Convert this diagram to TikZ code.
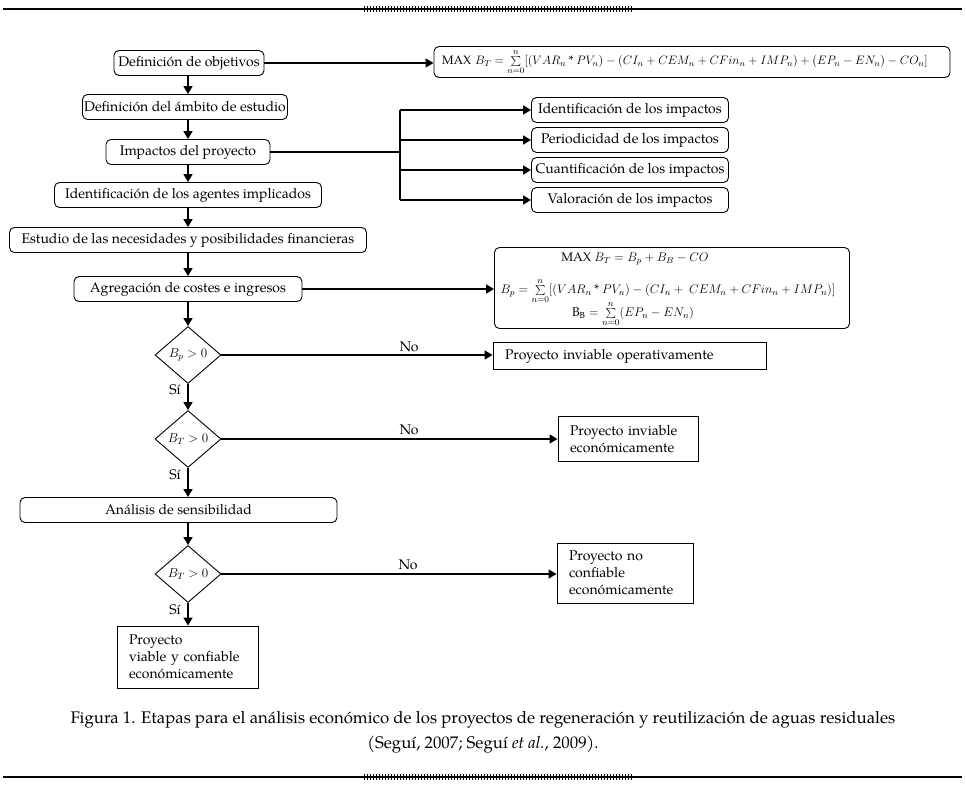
\RequirePackage{fix-cm}
\documentclass[tikz,border=0pt]{standalone}
\usepackage{fontspec}
\setmainfont{TeX Gyre Pagella}
\usetikzlibrary{arrows.meta,shapes.geometric}
\newcommand{\astx}{\mathbin{\mbox{*}}}
\begin{document}
\begin{tikzpicture}[x=1pt,y=-1pt,
  every node/.style={font=\fontsize{14}{17}\selectfont, inner sep=0pt},
  mathtxt/.style={font=\fontsize{12.5}{15}\selectfont},
  rbox/.style={draw, rounded corners=5pt, line width=0.9pt, minimum height=25pt},
  pbox/.style={draw, line width=0.9pt, align=left, inner xsep=12pt},
  dec/.style={draw, diamond, aspect=1.15, line width=0.9pt, minimum width=66pt, minimum height=57pt, font=\fontsize{13}{15}\selectfont},
  conn/.style={line width=1.6pt, -{Triangle[length=8pt,width=9pt]}},
  plain/.style={line width=1.6pt},
  lbl/.style={font=\fontsize{14}{16}\selectfont},
  rule/.style={line width=1.2pt},
  ]
\useasboundingbox (0,0) rectangle (966,788);

% rules with hatched band
\draw[rule] (3,9) -- (962,9);
\draw[rule] (3,777) -- (962,777);
\foreach \i in {0,...,89} {
  \draw[line width=0.9pt] ({364+3*\i},6) -- ({364+3*\i},12);
  \draw[line width=0.9pt] ({364+3*\i},774) -- ({364+3*\i},780);
}

\coordinate (ax) at (188,0);

% main column
\node[rbox, minimum width=150pt] (obj) at (189,63) {Definición de objetivos};
\node[rbox, minimum width=205pt] (amb) at (185,107) {Definición del ámbito de estudio};
\node[rbox, minimum width=164pt] (imp) at (188,152) {Impactos del proyecto};
\node[rbox, minimum width=267pt] (age) at (188,195) {Identificación de los agentes implicados};
\node[rbox, minimum width=357pt] (est) at (188,240) {Estudio de las necesidades y posibilidades financieras};
\node[rbox, minimum width=228pt] (agr) at (188,289) {Agregación de costes e ingresos};
\node[dec] (d1) at (188,355) {$B_p>0$};
\node[dec] (d2) at (188,439) {$B_T>0$};
\node[rbox, minimum width=317pt] (ana) at (178.5,510) {Análisis de sensibilidad};
\node[dec] (d3) at (188,574) {$B_T>0$};
\node[pbox, text width=117pt, minimum height=62pt] (via) at (187.5,657) {Proyecto\\viable y confiable\\económicamente};

\draw[conn] (ax |- obj.south) -- (ax |- amb.north);
\draw[conn] (ax |- amb.south) -- (ax |- imp.north);
\draw[conn] (ax |- imp.south) -- (ax |- age.north);
\draw[conn] (ax |- age.south) -- (ax |- est.north);
\draw[conn] (ax |- est.south) -- (ax |- agr.north);
\draw[conn] (ax |- agr.south) -- (d1.north);
\draw[conn] (d1.south) -- (d2.north);
\draw[conn] (d2.south) -- (ax |- ana.north);
\draw[conn] (ax |- ana.south) -- (d3.north);
\draw[conn] (d3.south) -- (ax |- via.north);

\node[lbl] (si1) at (175,390) {Sí};
\node[lbl] (si2) at (175,475) {Sí};
\node[lbl] (si3) at (175,610) {Sí};

% formula 1
\node[rbox, text width=500pt, inner xsep=8pt, align=left, minimum height=31pt, font=\fontsize{12.2}{15}\selectfont] (f1) at (692,62)
  {MAX $B_T=\sum\limits_{n=0}^{n}[(VAR_n\astx PV_n)-(CI_n+CEM_n+CFin_n+IMP_n)+(EP_n-EN_n)-CO_n]$};
\draw[conn] (obj.east) -- (obj.east -| f1.west);

% impacts
\node[rbox, minimum width=197pt] (i1) at (630,110) {Identificación de los impactos};
\node[rbox, minimum width=197pt] (i2) at (630,140) {Periodicidad de los impactos};
\node[rbox, minimum width=197pt] (i3) at (630,170) {Cuantificación de los impactos};
\node[rbox, minimum width=197pt] (i4) at (630,200) {Valoración de los impactos};
\coordinate (br) at (400,152);
\draw[plain] (imp.east) -- (imp.east -| br);
\draw[plain] (br |- i1.west) -- (br |- i4.west);
\draw[conn] (br |- i1.west) -- (i1.west);
\draw[conn] (br |- i2.west) -- (i2.west);
\draw[conn] (br |- i3.west) -- (i3.west);
\draw[conn] (br |- i4.west) -- (i4.west);

% formula 2
\node[rbox, minimum width=355pt, minimum height=81pt] (f2) at (672,288) {};
\node[mathtxt] (f2a) at (635,259) {MAX $B_T=B_p+B_B-CO$};
\node[mathtxt] (f2b) at (668,291) {$B_p=\sum\limits_{n=0}^{n}[(VAR_n\astx PV_n)-(CI_n+\ CEM_n+CFin_n+IMP_n)]$};
\node[mathtxt] (f2c) at (633,314) {B$_{\mathrm{B}}=\sum\limits_{n=0}^{n}(EP_n-EN_n)$};
\draw[conn] (agr.east) -- (agr.east -| f2.west);

% outcomes
\node[pbox, text width=249pt, minimum height=27pt] (o1) at (629.5,356) {Proyecto inviable operativamente};
\node[pbox, text width=116pt, minimum height=45pt] (o2) at (628,439) {Proyecto inviable\\económicamente};
\node[pbox, text width=112pt, minimum height=60pt] (o3) at (625,573) {Proyecto no\\confiable\\económicamente};

\draw[conn] (d1.east) -- (d1.east -| o1.west);
\draw[conn] (d2.east) -- (d2.east -| o2.west);
\draw[conn] (d3.east) -- (d3.east -| o3.west);
\node[lbl] (no1) at (409,347) {No};
\node[lbl] (no2) at (409,430) {No};
\node[lbl] (no3) at (408,565) {No};

% caption
\node[font=\fontsize{16.8}{19}\selectfont] (cap1) at (483,720) {Figura 1. Etapas para el análisis económico de los proyectos de regeneración y reutilización de aguas residuales};
\node[font=\fontsize{16.8}{19}\selectfont] (cap2) at (483,745) {(Seguí, 2007; Seguí \textit{et al.}, 2009).};
\end{tikzpicture}
\end{document}
